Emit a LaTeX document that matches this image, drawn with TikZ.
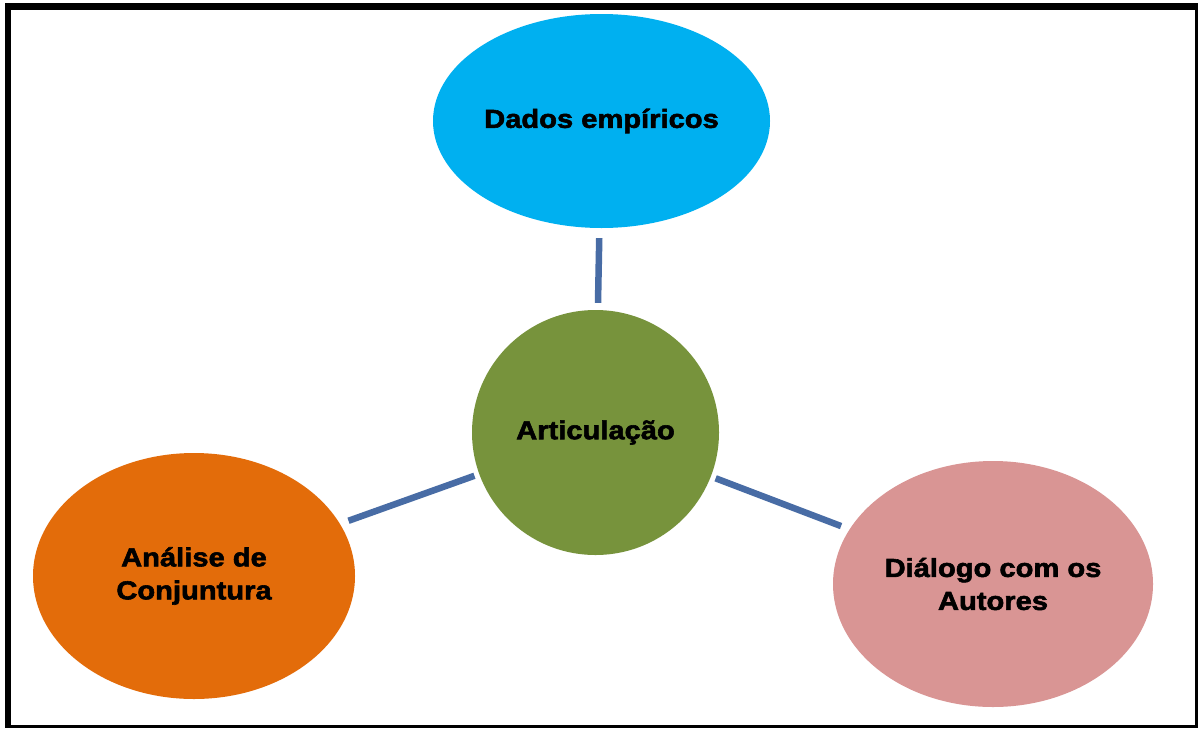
\documentclass[tikz,border=0pt]{standalone}
\usepackage{fontspec}
\setmainfont{Liberation Sans}[BoldFeatures={FakeStretch=1.12,FakeBold=2.2}]
\usetikzlibrary{shapes.geometric}
\definecolor{skyfill}{RGB}{0,176,240}
\definecolor{olivefill}{RGB}{119,147,60}
\definecolor{orangefill}{RGB}{227,108,10}
\definecolor{rosefill}{RGB}{217,149,148}
\definecolor{linkblue}{RGB}{72,108,165}
\begin{document}
\begin{tikzpicture}[x=1pt,y=-1pt,
  bubble/.style={ellipse, inner sep=0pt, draw=none, align=center,
    font=\fontsize{26}{33}\selectfont\bfseries},
  link/.style={draw=linkblue, line width=6.5pt}]
\useasboundingbox (0,0) rectangle (1201,731);
\fill[white] (0,0) rectangle (1201,731);
% frame
\draw[line width=7pt] (5,6.5) -- (1198,6.5);
\draw[line width=6pt] (8,3) -- (8,728);
\draw[line width=3pt] (1196.5,3) -- (1196.5,728);
\draw[line width=3pt] (5,726.5) -- (1198,726.5);
% bubbles
\node[bubble, fill=skyfill, minimum width=337pt, minimum height=214pt] (dados) at (601.5,121) {Dados empíricos};
\node[bubble, fill=olivefill, minimum width=247pt, minimum height=245pt] (artic) at (595.5,432.5) {Articulação};
\node[bubble, fill=orangefill, minimum width=322pt, minimum height=246pt] (analise) at (194,576) {Análise de\\Conjuntura};
\node[bubble, fill=rosefill, minimum width=320pt, minimum height=246pt] (dialogo) at (993,584) {Diálogo com os\\Autores};
% links
\draw[link, shorten <=10pt, shorten >=7pt] (dados) -- (artic);
\draw[link, shorten <=9pt, shorten >=5pt] (analise) -- (artic);
\draw[link, shorten <=9pt, shorten >=5pt] (dialogo) -- (artic);
\end{tikzpicture}
\end{document}
